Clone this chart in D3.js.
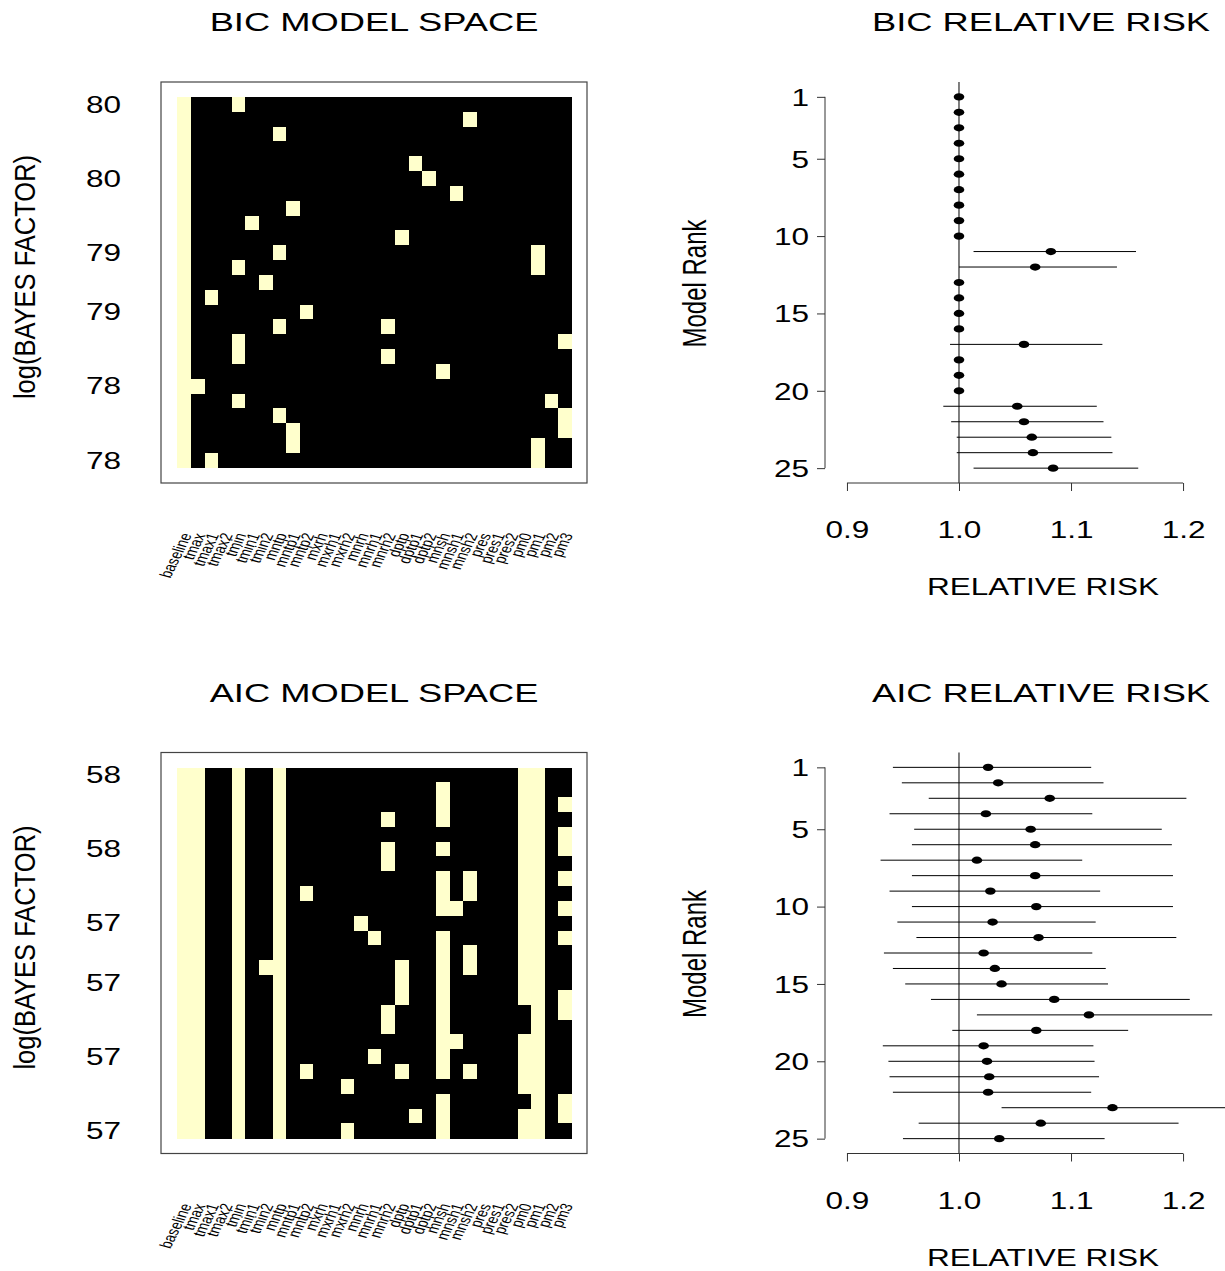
<!DOCTYPE html>
<html>
<head>
<meta charset="utf-8">
<script src="https://cdn.jsdelivr.net/npm/d3@7"></script>
<style>
  body { margin: 0; background: #fff; }
  text { font-family: "Liberation Sans", Arial, sans-serif; fill: #000; }
</style>
</head>
<body>
<svg id="chart" width="1225" height="1271"></svg>
<script>
// variables in the model space (columns)
var varNames = ["baseline","tmax","tmax1","tmax2","tmin","tmin1","tmin2","mntp","mntp1","mntp2",
  "mxrh","mxrh1","mxrh2","mnrh","mnrh1","mnrh2","dptp","dptp1","dptp2","mnsh","mnsh1","mnsh2",
  "pres","pres1","pres2","pm0","pm1","pm2","pm3"];

// variables included in each of the top 25 models (ranked)
var bicModels = [
  ["baseline","tmin"], ["baseline","mnsh2"], ["baseline","mntp"], ["baseline"],
  ["baseline","dptp1"], ["baseline","dptp2"], ["baseline","mnsh1"], ["baseline","mntp1"],
  ["baseline","tmin1"], ["baseline","dptp"], ["baseline","mntp","pm1"], ["baseline","tmin","pm1"],
  ["baseline","tmin2"], ["baseline","tmax1"], ["baseline","mntp2"], ["baseline","mntp","mnrh2"],
  ["baseline","tmin","pm3"], ["baseline","tmin","mnrh2"], ["baseline","mnsh"], ["baseline","tmax"],
  ["baseline","tmin","pm2"], ["baseline","mntp","pm3"], ["baseline","mntp1","pm3"],
  ["baseline","mntp1","pm1"], ["baseline","tmax1","pm1"]
];
var aicModels = [
  ["baseline","tmax","tmin","mntp","pm0","pm1"],
  ["baseline","tmax","tmin","mntp","mnsh","pm0","pm1"],
  ["baseline","tmax","tmin","mntp","mnsh","pm0","pm1","pm3"],
  ["baseline","tmax","tmin","mntp","mnrh2","mnsh","pm0","pm1"],
  ["baseline","tmax","tmin","mntp","pm0","pm1","pm3"],
  ["baseline","tmax","tmin","mntp","mnrh2","mnsh","pm0","pm1","pm3"],
  ["baseline","tmax","tmin","mntp","mnrh2","pm0","pm1"],
  ["baseline","tmax","tmin","mntp","mnsh","mnsh2","pm0","pm1","pm3"],
  ["baseline","tmax","tmin","mntp","mntp2","mnsh","mnsh2","pm0","pm1"],
  ["baseline","tmax","tmin","mntp","mnsh","mnsh1","pm0","pm1","pm3"],
  ["baseline","tmax","tmin","mntp","mnrh","pm0","pm1"],
  ["baseline","tmax","tmin","mntp","mnrh1","mnsh","pm0","pm1","pm3"],
  ["baseline","tmax","tmin","mntp","mnsh","mnsh2","pm0","pm1"],
  ["baseline","tmax","tmin","tmin2","mntp","dptp","mnsh","mnsh2","pm0","pm1"],
  ["baseline","tmax","tmin","mntp","dptp","mnsh","pm0","pm1"],
  ["baseline","tmax","tmin","mntp","dptp","mnsh","pm0","pm1","pm3"],
  ["baseline","tmax","tmin","mntp","mnrh2","mnsh","pm1","pm3"],
  ["baseline","tmax","tmin","mntp","mnrh2","mnsh","pm1"],
  ["baseline","tmax","tmin","mntp","mnsh","mnsh1","pm0","pm1"],
  ["baseline","tmax","tmin","mntp","mnrh1","mnsh","pm0","pm1"],
  ["baseline","tmax","tmin","mntp","mntp2","dptp","mnsh","mnsh2","pm0","pm1"],
  ["baseline","tmax","tmin","mntp","mxrh2","pm0","pm1"],
  ["baseline","tmax","tmin","mntp","mnsh","pm1","pm3"],
  ["baseline","tmax","tmin","mntp","dptp1","mnsh","pm0","pm1","pm3"],
  ["baseline","tmax","tmin","mntp","mxrh2","mnsh","pm0","pm1"]
];

// log(Bayes factor) labels and the rows they sit on
var logBFRows = [0, 5, 10, 14, 19, 24];
var bicLogBF = ["80","80","79","79","78","78"];
var aicLogBF = ["58","58","57","57","57","57"];

// relative risk per model rank
var ranks = [1,2,3,4,5,6,7,8,9,10,11,12,13,14,15,16,17,18,19,20,21,22,23,24,25];
var bicRR   = [1,1,1,1,1,1,1,1,1,1, 1.082,1.068, 1,1,1,1, 1.058, 1,1,1, 1.052,1.058,1.065,1.066,1.084];
var bicLow  = [1,1,1,1,1,1,1,1,1,1, 1.013,1.000, 1,1,1,1, 0.992, 1,1,1, 0.986,0.993,0.998,0.998,1.013];
var bicHigh = [1,1,1,1,1,1,1,1,1,1, 1.158,1.141, 1,1,1,1, 1.128, 1,1,1, 1.123,1.129,1.136,1.137,1.160];

var aicRR   = [1.026,1.035,1.081,1.024,1.064,1.068,1.016,1.068,1.028,1.069,1.030,1.071,1.022,
               1.032,1.038,1.085,1.116,1.069,1.022,1.025,1.027,1.026,1.137,1.073,1.036];
var aicLow  = [0.941,0.949,0.973,0.938,0.960,0.958,0.930,0.958,0.938,0.958,0.945,0.962,0.933,
               0.941,0.952,0.975,1.016,0.994,0.932,0.937,0.938,0.941,1.038,0.964,0.950];
var aicHigh = [1.118,1.129,1.203,1.119,1.181,1.190,1.110,1.191,1.126,1.191,1.122,1.194,1.119,
               1.131,1.133,1.206,1.226,1.151,1.120,1.121,1.125,1.118,1.245,1.196,1.130];

var rankTicks = [1, 5, 10, 15, 20, 25];
var rrTicks = [0.9, 1.0, 1.1, 1.2];

var SX = 1.37;          // horizontal stretch of the glyphs
var PALE = "#ffffcc";
var svg = d3.select("#chart");

function stretched(g, txt, x, y, size, anchor, rot, sx) {
  return g.append("text")
    .attr("transform", "translate(" + x + "," + y + ") scale(" + (sx || SX) + ",1)" + (rot ? " rotate(" + rot + ")" : ""))
    .attr("text-anchor", anchor)
    .style("font-size", size + "px")
    .text(txt);
}

function modelSpace(g, models, bfLabels, title) {
  var x = d3.scaleBand().domain(varNames).range([177.3, 572]);
  var y = d3.scaleBand().domain(d3.range(models.length)).range([97, 467.7]);

  g.append("rect")
    .attr("x", 161).attr("y", 82).attr("width", 426).attr("height", 401)
    .attr("fill", "none").attr("stroke", "#444").attr("stroke-width", 1.2);

  var cells = [];
  models.forEach(function(m, i) {
    varNames.forEach(function(v) { cells.push({row: i, v: v, on: m.indexOf(v) >= 0}); });
  });
  g.append("g").selectAll("rect").data(cells).join("rect")
    .attr("x", function(d) { return x(d.v); })
    .attr("y", function(d) { return y(d.row); })
    .attr("width", x.bandwidth() + 0.3)
    .attr("height", y.bandwidth() + 0.3)
    .attr("fill", function(d) { return d.on ? PALE : "#000"; })
    .style("shape-rendering", "crispEdges");

  logBFRows.forEach(function(r, i) {
    stretched(g, bfLabels[i], 121, y(r) + y.bandwidth() / 2 + 8.3, 23, "end");
  });

  varNames.forEach(function(v) {
    stretched(g, v, x(v) + x.bandwidth() / 2 + 8, 535, 12.5, "end", -70);
  });

  stretched(g, title, 374, 31, 26.5, "middle");
  stretched(g, "log(BAYES FACTOR)", 35, 277, 25.5, "middle", -90, 1.15);
}

function relRisk(g, rr, low, high, title) {
  var x = d3.scaleLinear().domain([0.8804, 1.266]).range([825, 1257]);
  var y = d3.scaleLinear().domain([0.04, 25.96]).range([82, 483]);

  // reference line at RR = 1
  g.append("line")
    .attr("x1", x(1)).attr("x2", x(1)).attr("y1", 82).attr("y2", 483)
    .attr("stroke", "#000").attr("stroke-width", 1);

  var pts = ranks.map(function(r, i) { return {rank: r, rr: rr[i], lo: low[i], hi: high[i]}; });

  g.append("g").selectAll("line").data(pts.filter(function(d) { return d.hi > d.lo; })).join("line")
    .attr("x1", function(d) { return x(d.lo); })
    .attr("x2", function(d) { return x(d.hi); })
    .attr("y1", function(d) { return y(d.rank); })
    .attr("y2", function(d) { return y(d.rank); })
    .attr("stroke", "#000").attr("stroke-width", 1);

  g.append("g").selectAll("ellipse").data(pts).join("ellipse")
    .attr("cx", function(d) { return x(d.rr); })
    .attr("cy", function(d) { return y(d.rank); })
    .attr("rx", 5.3).attr("ry", 3.6)
    .attr("fill", "#000");

  // left axis
  var ya = g.append("g").attr("transform", "translate(825,0)")
    .call(d3.axisLeft(y).tickValues(rankTicks).tickSize(8).tickSizeOuter(0));
  ya.select(".domain").remove();
  ya.append("line").attr("y1", y(1)).attr("y2", y(25)).attr("stroke", "#333");
  ya.selectAll(".tick line").attr("stroke", "#333");
  ya.selectAll(".tick text")
    .attr("x", null).attr("dy", null)
    .attr("transform", "translate(-16,8.3) scale(" + SX + ",1)")
    .attr("fill", "#000")
    .style("font-size", "23px");
  ya.attr("font-family", null).attr("font-size", null);

  // bottom axis
  var xa = g.append("g").attr("transform", "translate(0,483)")
    .call(d3.axisBottom(x).tickValues(rrTicks).tickFormat(d3.format(".1f")).tickSize(8).tickSizeOuter(0));
  xa.select(".domain").remove();
  xa.append("line").attr("x1", x(0.9)).attr("x2", x(1.2)).attr("stroke", "#333");
  xa.selectAll(".tick line").attr("stroke", "#333");
  xa.selectAll(".tick text")
    .attr("y", null).attr("dy", null)
    .attr("transform", "translate(0,55) scale(" + SX + ",1)")
    .attr("fill", "#000")
    .style("font-size", "23px");
  xa.attr("font-family", null).attr("font-size", null);

  stretched(g, title, 1041, 31, 26.5, "middle");
  stretched(g, "RELATIVE RISK", 1043, 595, 23, "middle");
  stretched(g, "Model Rank", 706, 283.5, 24, "middle", -90);
}

var topRow = svg.append("g");
var bottomRow = svg.append("g").attr("transform", "translate(0,670.5)");

modelSpace(topRow, bicModels, bicLogBF, "BIC MODEL SPACE");
relRisk(topRow, bicRR, bicLow, bicHigh, "BIC RELATIVE RISK");
modelSpace(bottomRow, aicModels, aicLogBF, "AIC MODEL SPACE");
relRisk(bottomRow, aicRR, aicLow, aicHigh, "AIC RELATIVE RISK");
</script>
</body>
</html>
